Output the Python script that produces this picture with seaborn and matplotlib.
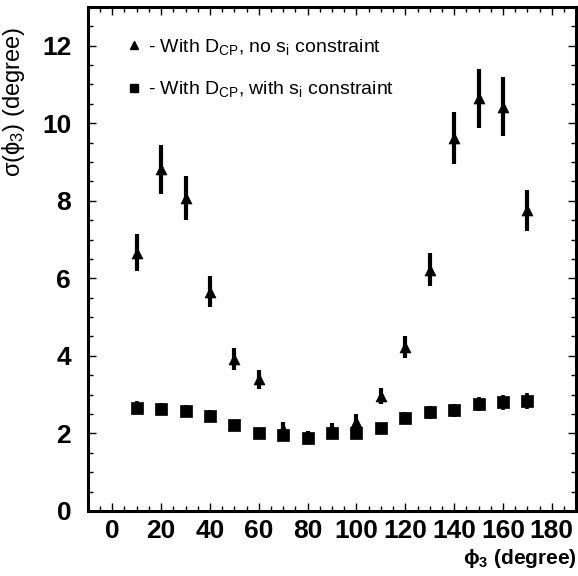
import numpy as np
import pandas as pd
import matplotlib
matplotlib.use("Agg")
import matplotlib.pyplot as plt
from matplotlib.ticker import MultipleLocator
from matplotlib.lines import Line2D
import seaborn as sns

# phi3 scan points and fitted resolutions
phi3 = [10, 20, 30, 40, 50, 60, 70, 80, 90, 100, 110, 120, 130, 140, 150, 160, 170]
sigma_no_si = [6.66, 8.81, 8.07, 5.65, 3.92, 3.39, 2.12, 1.90, 2.10, 2.30, 2.97,
               4.23, 6.22, 9.63, 10.64, 10.42, 7.75]
err_no_si = [0.47, 0.63, 0.57, 0.40, 0.28, 0.24, 0.17, 0.15, 0.17, 0.20, 0.20,
             0.29, 0.43, 0.67, 0.76, 0.76, 0.53]
sigma_si = [2.66, 2.63, 2.58, 2.46, 2.22, 2.00, 1.97, 1.87, 2.02, 2.00, 2.13,
            2.39, 2.54, 2.60, 2.75, 2.80, 2.84]
err_si = [0.17, 0.16, 0.16, 0.15, 0.13, 0.10, 0.12, 0.10, 0.12, 0.12, 0.13,
          0.15, 0.16, 0.17, 0.18, 0.19, 0.20]

label_no_si = r"- With D$_{\mathrm{CP}}$, no s$_{\mathrm{i}}$ constraint"
label_si = r"- With D$_{\mathrm{CP}}$, with s$_{\mathrm{i}}$ constraint"

df = pd.DataFrame({
    "phi3": phi3 * 2,
    "sigma": sigma_no_si + sigma_si,
    "err": err_no_si + err_si,
    "fit": ["no_si"] * len(phi3) + ["si"] * len(phi3),
})

sns.set_style("ticks")
plt.rcParams["font.family"] = ["Liberation Sans", "DejaVu Sans"]
plt.rcParams["mathtext.fontset"] = "custom"
plt.rcParams["mathtext.rm"] = "Liberation Sans"
plt.rcParams["mathtext.it"] = "Liberation Sans:italic"
plt.rcParams["mathtext.bf"] = "Liberation Sans:bold"
for key in ["text.color", "axes.labelcolor", "xtick.color", "ytick.color",
            "axes.edgecolor"]:
    plt.rcParams[key] = "black"

fig = plt.figure(figsize=(5.78, 5.76), dpi=100)
ax = fig.add_axes([0.152, 0.113, 0.845, 0.875])

# error bars + markers, triangles first, squares on top
tri = df[df.fit == "no_si"]
sq = df[df.fit == "si"]
ax.errorbar(tri.phi3, tri.sigma, yerr=tri.err, fmt="none", ecolor="black",
            elinewidth=3.0, capsize=0, zorder=2)
sns.scatterplot(data=tri, x="phi3", y="sigma", marker="^", s=62, color="black",
                edgecolor="black", linewidth=0.5, ax=ax, zorder=3, legend=False)
ax.errorbar(sq.phi3, sq.sigma, yerr=sq.err, fmt="none", ecolor="black",
            elinewidth=2.6, capsize=0, zorder=4)
sns.scatterplot(data=sq, x="phi3", y="sigma", marker="s", s=68, color="black",
                edgecolor="black", linewidth=0.5, ax=ax, zorder=5, legend=False)

ax.set_xlim(-10, 190)
ax.set_ylim(0, 13)
ax.xaxis.set_major_locator(MultipleLocator(20))
ax.xaxis.set_minor_locator(MultipleLocator(5))
ax.yaxis.set_major_locator(MultipleLocator(2))
ax.yaxis.set_minor_locator(MultipleLocator(0.5))
ax.tick_params(which="both", direction="in", top=True, right=True, width=1.0)
ax.tick_params(which="major", length=6)
ax.tick_params(which="minor", length=3.5)
ax.tick_params(axis="x", which="major", labelsize=19, pad=6)
ax.tick_params(axis="y", which="major", labelsize=19, pad=12)
for lab in ax.get_xticklabels() + ax.get_yticklabels():
    lab.set_fontweight("bold")
for sp in ax.spines.values():
    sp.set_linewidth(2.2)

ax.set_xlabel(r"ϕ$_{\mathbf{3}}$ (degree)", fontsize=15, fontweight="bold",
              loc="right")
ax.xaxis.set_label_coords(1.0, -0.072)
ax.set_ylabel(r"σ(ϕ$_3$) (degree)", fontsize=17, loc="top")
ax.yaxis.set_label_coords(-0.125, 0.96)

handles = [
    Line2D([], [], marker="^", color="black", linestyle="none", markersize=6),
    Line2D([], [], marker="s", color="black", linestyle="none", markersize=6),
]
ax.legend(handles, [label_no_si, label_si], loc="upper left", frameon=False,
          fontsize=14, handletextpad=0.1, handlelength=1.2, labelspacing=1.15,
          bbox_to_anchor=(0.035, 0.975))

fig.savefig("out.png", dpi=100)
